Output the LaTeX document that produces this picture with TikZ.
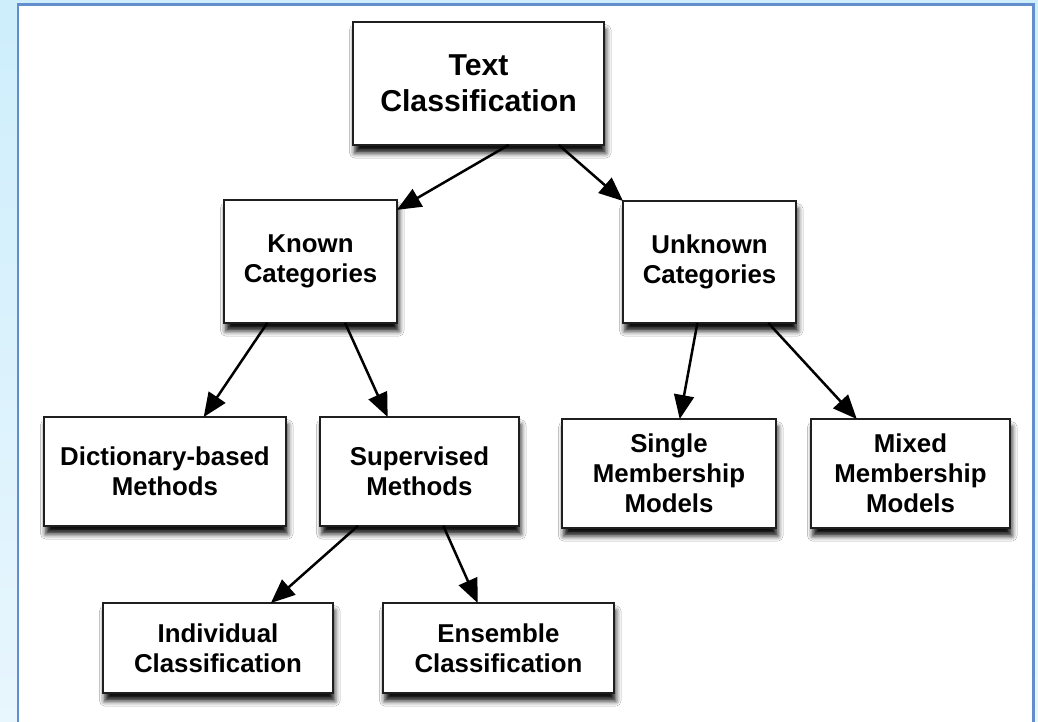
\documentclass[tikz,border=0pt]{standalone}
\usepackage{fontspec}
\setmainfont{Liberation Sans}
\usetikzlibrary{calc,arrows.meta,shadows.blur}
\definecolor{framebl}{RGB}{98,142,206}
\definecolor{skybl}{RGB}{206,238,252}
\definecolor{paleb}{RGB}{232,246,253}

\begin{document}
\begin{tikzpicture}[x=0.02cm,y=-0.02cm,
  box/.style={draw=black!88,line width=0.055cm,fill=white,inner sep=0pt,outer sep=0pt,align=center,
    font=\bfseries\fontsize{14.7}{17}\selectfont,
    blur shadow={shadow xshift=1pt,shadow yshift=-4.5pt,shadow blur radius=3pt,shadow opacity=95}},
  arr/.style={line width=0.05cm,-{Triangle[length=0.48cm,width=0.4cm]}}]
  \useasboundingbox (0,0) rectangle (1038,722);
  \shade[top color=skybl,bottom color=paleb] (0,0) rectangle (1038,722);
  \draw[framebl,line width=0.06cm,fill=white] (18,5) rectangle (1033,740);

  \node[box,font=\bfseries\fontsize{17.2}{20.5}\selectfont,minimum width=5.02cm,minimum height=2.46cm] (tc) at (478.5,83.5) {Text\\Classification};
  \node[box,minimum width=3.46cm,minimum height=2.46cm] (known) at (310.5,261.5) {Known\\Categories};
  \node[box,minimum width=3.46cm,minimum height=2.44cm] (unknown) at (709.5,262) {Unknown\\Categories};
  \node[box,minimum width=4.84cm,minimum height=2.18cm] (dict) at (165,471.5) {Dictionary-based\\Methods};
  \node[box,minimum width=3.98cm,minimum height=2.18cm] (sup) at (419.5,471.5) {Supervised\\Methods};
  \node[box,minimum width=4.28cm,minimum height=2.18cm] (single) at (669,473.5) {Single\\Membership\\Models};
  \node[box,minimum width=3.98cm,minimum height=2.18cm] (mixed) at (910.5,473.5) {Mixed\\Membership\\Models};
  \node[box,minimum width=4.60cm,minimum height=1.80cm] (indiv) at (218,648) {Individual\\Classification};
  \node[box,minimum width=4.62cm,minimum height=1.80cm] (ensem) at (498.5,648) {Ensemble\\Classification};

  \draw[arr] ($(tc.south west)!0.62!(tc.south east)$) -- ($(known.north east)!0.08!(known.south east)$);
  \draw[arr] ($(tc.south west)!0.82!(tc.south east)$) -- (unknown.north west);
  \draw[arr] ($(known.south west)!0.25!(known.south east)$) -- ($(dict.north west)!0.66!(dict.north east)$);
  \draw[arr] ($(known.south west)!0.70!(known.south east)$) -- ($(sup.north west)!0.34!(sup.north east)$);
  \draw[arr] ($(sup.south west)!0.19!(sup.south east)$) -- ($(indiv.north west)!0.73!(indiv.north east)$);
  \draw[arr] ($(sup.south west)!0.62!(sup.south east)$) -- ($(ensem.north west)!0.41!(ensem.north east)$);
  \draw[arr] ($(unknown.south west)!0.43!(unknown.south east)$) -- ($(single.north west)!0.55!(single.north east)$);
  \draw[arr] ($(unknown.south west)!0.84!(unknown.south east)$) -- ($(mixed.north west)!0.23!(mixed.north east)$);
\end{tikzpicture}
\end{document}
